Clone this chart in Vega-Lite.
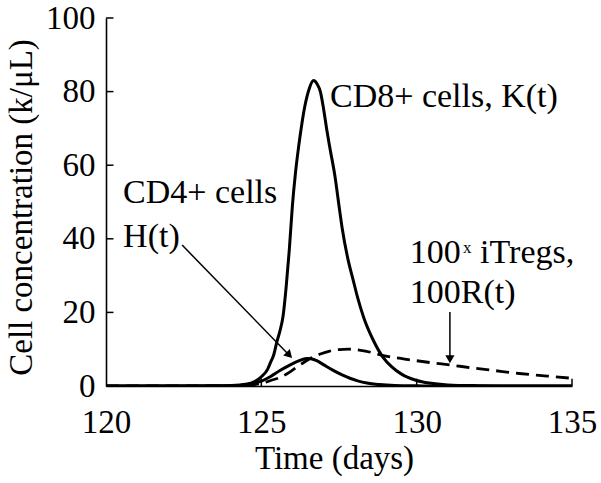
{
  "$schema": "https://vega.github.io/schema/vega-lite/v6.json",
  "width": 466,
  "height": 368,
  "autosize": {"type": "none"},
  "padding": {"left": 106, "top": 18, "right": 29, "bottom": 97},
  "background": "white",
  "config": {
    "view": {"stroke": null},
    "font": "Liberation Serif",
    "axis": {"grid": false, "ticks": false, "domainColor": "black", "domainWidth": 1.6,
      "labelColor": "black", "titleColor": "black", "labelFont": "Liberation Serif", "titleFont": "Liberation Serif",
      "labelFontSize": 33, "titleFontSize": 33, "titleFontWeight": "normal"}
  },
  "datasets": {
    "curves": [
      {"s": "K", "t": 120, "v": 0}, {"s": "K", "t": 122, "v": 0}, {"s": "K", "t": 123.5, "v": 0.05}, {"s": "K", "t": 124, "v": 0.15},
      {"s": "K", "t": 124.5, "v": 0.5}, {"s": "K", "t": 124.8, "v": 1.3}, {"s": "K", "t": 125.0, "v": 2.5}, {"s": "K", "t": 125.2, "v": 4.5},
      {"s": "K", "t": 125.3, "v": 6.5}, {"s": "K", "t": 125.4, "v": 8.5}, {"s": "K", "t": 125.5, "v": 12}, {"s": "K", "t": 125.6, "v": 15},
      {"s": "K", "t": 125.7, "v": 19}, {"s": "K", "t": 125.8, "v": 27}, {"s": "K", "t": 125.9, "v": 37}, {"s": "K", "t": 126.0, "v": 49},
      {"s": "K", "t": 126.1, "v": 58}, {"s": "K", "t": 126.2, "v": 65}, {"s": "K", "t": 126.3, "v": 71}, {"s": "K", "t": 126.4, "v": 76},
      {"s": "K", "t": 126.55, "v": 81}, {"s": "K", "t": 126.68, "v": 83}, {"s": "K", "t": 126.8, "v": 82}, {"s": "K", "t": 126.9, "v": 80},
      {"s": "K", "t": 127.0, "v": 75.5}, {"s": "K", "t": 127.1, "v": 70}, {"s": "K", "t": 127.2, "v": 65}, {"s": "K", "t": 127.37, "v": 57},
      {"s": "K", "t": 127.5, "v": 49}, {"s": "K", "t": 127.6, "v": 43}, {"s": "K", "t": 127.8, "v": 34}, {"s": "K", "t": 127.95, "v": 29},
      {"s": "K", "t": 128.1, "v": 24}, {"s": "K", "t": 128.3, "v": 18.5}, {"s": "K", "t": 128.6, "v": 12.5}, {"s": "K", "t": 128.9, "v": 8},
      {"s": "K", "t": 129.2, "v": 5.2}, {"s": "K", "t": 129.5, "v": 3.3}, {"s": "K", "t": 129.7, "v": 2.4}, {"s": "K", "t": 130.0, "v": 1.5},
      {"s": "K", "t": 130.4, "v": 0.8}, {"s": "K", "t": 131.0, "v": 0.3}, {"s": "K", "t": 132, "v": 0.08}, {"s": "K", "t": 133, "v": 0},
      {"s": "K", "t": 135, "v": 0},
      {"s": "H", "t": 120, "v": 0}, {"s": "H", "t": 124, "v": 0.05}, {"s": "H", "t": 124.5, "v": 0.3}, {"s": "H", "t": 124.8, "v": 0.8},
      {"s": "H", "t": 125.0, "v": 1.3}, {"s": "H", "t": 125.3, "v": 2.6}, {"s": "H", "t": 125.6, "v": 4.2}, {"s": "H", "t": 125.9, "v": 5.6},
      {"s": "H", "t": 126.2, "v": 6.8}, {"s": "H", "t": 126.45, "v": 7.5}, {"s": "H", "t": 126.6, "v": 7.4}, {"s": "H", "t": 126.8, "v": 6.8},
      {"s": "H", "t": 127.0, "v": 5.8}, {"s": "H", "t": 127.3, "v": 4.3}, {"s": "H", "t": 127.6, "v": 3.0}, {"s": "H", "t": 127.85, "v": 2.1},
      {"s": "H", "t": 128.1, "v": 1.4}, {"s": "H", "t": 128.4, "v": 0.8}, {"s": "H", "t": 128.8, "v": 0.4}, {"s": "H", "t": 129.3, "v": 0.15},
      {"s": "H", "t": 130, "v": 0.05}, {"s": "H", "t": 131, "v": 0}, {"s": "H", "t": 135, "v": 0},
      {"s": "R", "t": 120, "v": 0}, {"s": "R", "t": 124.3, "v": 0.05}, {"s": "R", "t": 124.7, "v": 0.3}, {"s": "R", "t": 125.05, "v": 0.8},
      {"s": "R", "t": 125.3, "v": 1.5}, {"s": "R", "t": 125.6, "v": 2.3}, {"s": "R", "t": 125.9, "v": 3.7}, {"s": "R", "t": 126.15, "v": 5.2},
      {"s": "R", "t": 126.4, "v": 6.6}, {"s": "R", "t": 126.6, "v": 7.6}, {"s": "R", "t": 126.9, "v": 8.7}, {"s": "R", "t": 127.2, "v": 9.5},
      {"s": "R", "t": 127.5, "v": 9.9}, {"s": "R", "t": 127.8, "v": 10.0}, {"s": "R", "t": 128.2, "v": 9.7}, {"s": "R", "t": 128.6, "v": 9.0},
      {"s": "R", "t": 128.9, "v": 8.3}, {"s": "R", "t": 129.3, "v": 7.7}, {"s": "R", "t": 129.8, "v": 7.1}, {"s": "R", "t": 130.5, "v": 6.3},
      {"s": "R", "t": 131.1, "v": 5.7}, {"s": "R", "t": 131.8, "v": 4.9}, {"s": "R", "t": 132.5, "v": 4.2}, {"s": "R", "t": 133.3, "v": 3.4},
      {"s": "R", "t": 134.2, "v": 2.7}, {"s": "R", "t": 135, "v": 2.1}
    ],
    "labels": [
      {"text": "CD8+ cells, K(t)", "t": 127.21, "v": 75.8},
      {"text": "CD4+ cells", "t": 120.55, "v": 49.7},
      {"text": "H(t)", "t": 120.55, "v": 37.8},
      {"text": "100", "t": 129.78, "v": 33.4},
      {"text": "iTregs,", "t": 132.04, "v": 33.4},
      {"text": "100R(t)", "t": 129.78, "v": 22.55}
    ],
    "small": [
      {"text": "x", "t": 131.49, "v": 36.1}
    ],
    "segments": [
      {"t": 122.45, "v": 38.3, "t2": 125.93, "v2": 8.1},
      {"t": 131.07, "v": 20.1, "t2": 131.07, "v2": 7.5},
      {"t": 120, "v": 0, "t2": 120.24, "v2": 0},
      {"t": 120, "v": 20, "t2": 120.24, "v2": 20},
      {"t": 120, "v": 40, "t2": 120.24, "v2": 40},
      {"t": 120, "v": 60, "t2": 120.24, "v2": 60},
      {"t": 120, "v": 80, "t2": 120.24, "v2": 80},
      {"t": 120, "v": 100, "t2": 120.24, "v2": 100},
      {"t": 125, "v": 0, "t2": 125, "v2": 2},
      {"t": 130, "v": 0, "t2": 130, "v2": 2},
      {"t": 135, "v": 0, "t2": 135, "v2": 2}
    ],
    "heads1": [{"t": 125.9, "v": 8.4}],
    "heads2": [{"t": 131.07, "v": 7.3}]
  },
  "data": {"name": "curves"},
  "encoding": {
    "x": {"field": "t", "type": "quantitative", "scale": {"domain": [120, 135], "nice": false, "zero": false},
      "axis": {"values": [120, 125, 130, 135], "labelPadding": 46, "labelBaseline": "alphabetic", "labelFlush": false,
        "title": "Time (days)", "titleX": 228, "titleY": 82, "titleBaseline": "alphabetic", "titleAlign": "center"}},
    "y": {"field": "v", "type": "quantitative", "scale": {"domain": [0, 100], "nice": false},
      "axis": {"values": [0, 20, 40, 60, 80, 100], "labelPadding": 11, "labelBaseline": "middle",
        "title": "Cell concentration (k/μL)", "titleX": -75, "titleY": 189, "titleBaseline": "alphabetic", "titleAlign": "center", "titleAngle": -90}}
  },
  "layer": [
    {"transform": [{"filter": "datum.s !== 'R'"}],
      "mark": {"type": "line", "color": "black", "strokeWidth": 3, "interpolate": "monotone", "clip": true},
      "encoding": {"detail": {"field": "s"}}},
    {"transform": [{"filter": "datum.s === 'R'"}],
      "mark": {"type": "line", "color": "black", "strokeWidth": 2.8, "strokeDash": [13, 7], "interpolate": "monotone", "clip": true}},
    {"data": {"name": "segments"},
      "mark": {"type": "rule", "color": "black", "strokeWidth": 1.5},
      "encoding": {"x2": {"field": "t2"}, "y2": {"field": "v2"}}},
    {"data": {"name": "heads1"},
      "mark": {"type": "point", "shape": "triangle-down", "filled": true, "color": "black", "opacity": 1, "size": 85, "angle": -44}},
    {"data": {"name": "heads2"},
      "mark": {"type": "point", "shape": "triangle-down", "filled": true, "color": "black", "opacity": 1, "size": 85}},
    {"data": {"name": "labels"},
      "mark": {"type": "text", "align": "left", "baseline": "alphabetic", "font": "Liberation Serif", "fontSize": 34, "color": "black"},
      "encoding": {"text": {"field": "text"}}},
    {"data": {"name": "small"},
      "mark": {"type": "text", "align": "left", "baseline": "alphabetic", "font": "Liberation Serif", "fontSize": 17, "color": "black"},
      "encoding": {"text": {"field": "text"}}}
  ]
}
